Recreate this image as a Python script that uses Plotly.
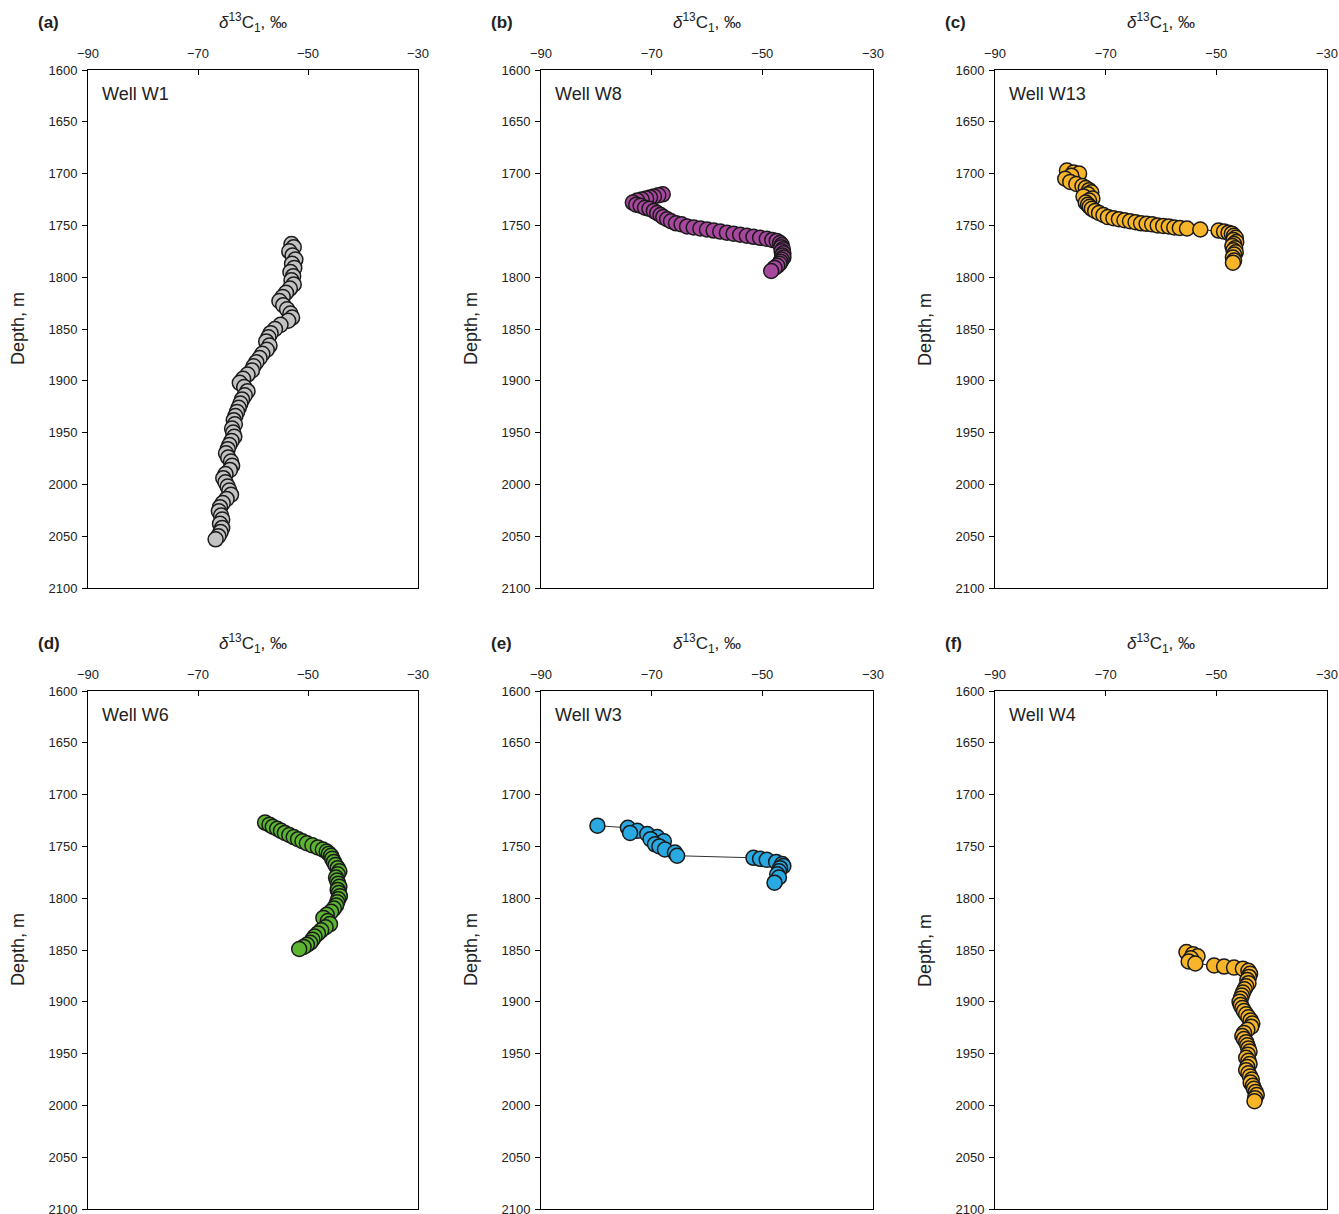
import plotly.graph_objects as go

W = 1339
H = 1214

# ---------------- data ----------------
w1_depth = [1768, 1771, 1775, 1779, 1783, 1787, 1791, 1795, 1799, 1803, 1807, 1811, 1815, 1819, 1823, 1827,
            1831, 1835, 1839, 1842, 1846, 1850, 1854, 1858, 1862, 1866, 1870, 1874, 1878, 1882, 1886, 1890,
            1894, 1898, 1902, 1906, 1910, 1914, 1918, 1922, 1926, 1930, 1934, 1938, 1942, 1946, 1950, 1954,
            1958, 1962, 1966, 1970, 1974, 1978, 1982, 1986, 1990, 1994, 1998, 2002, 2006, 2010, 2014, 2018,
            2022, 2026, 2030, 2034, 2038, 2042, 2046, 2050, 2053]
w1_d13c = [-53.0, -52.6, -53.4, -52.8, -52.3, -52.9, -52.5, -53.2, -52.7, -53.0, -52.6, -53.3, -54.0, -54.6, -55.2, -54.5,
           -53.8, -53.2, -52.9, -53.6, -55.0, -56.0, -56.8, -57.2, -57.6, -57.0, -57.5, -58.3, -58.8, -59.4, -59.9, -60.2,
           -61.0, -61.8, -62.4, -61.6, -61.0, -61.5, -62.0, -62.3, -62.6, -62.9, -63.2, -63.5, -63.3, -63.8, -63.6, -63.4,
           -63.9, -64.3, -64.6, -64.9, -64.5, -64.0, -63.8, -64.2, -65.0, -65.4, -65.0, -64.6, -64.3, -64.0, -64.8, -65.5,
           -66.0, -66.2, -65.8, -65.6, -66.0, -65.6, -65.9, -66.3, -66.8]

w8_depth = [1720, 1721, 1722, 1723, 1724, 1725, 1726, 1728, 1730, 1731, 1733, 1734, 1736, 1738, 1740, 1742,
            1744, 1746, 1748, 1749, 1751, 1752, 1753, 1754, 1755, 1756, 1757, 1758, 1759, 1760, 1761, 1762,
            1763, 1764, 1765, 1767, 1769, 1771, 1773, 1775, 1777, 1779, 1781, 1783, 1785, 1787, 1789, 1791, 1794]
w8_d13c = [-68.0, -68.8, -69.6, -70.3, -71.0, -71.8, -72.6, -73.4, -72.8, -72.0, -71.2, -70.4, -69.6, -69.0, -68.4, -67.9,
           -67.2, -66.5, -65.6, -64.6, -63.6, -62.4, -61.2, -60.0, -58.8, -57.6, -56.4, -55.2, -54.0, -52.8, -51.6, -50.4,
           -49.2, -48.2, -47.4, -46.8, -46.5, -46.6, -46.3, -46.5, -46.2, -46.4, -46.2, -46.5, -46.7, -46.9, -47.3, -47.8, -48.4]

w13_depth = [1697, 1699, 1700, 1702, 1705, 1708, 1710, 1712, 1714, 1716, 1718, 1720, 1722, 1724, 1726, 1728,
             1730, 1732, 1734, 1736, 1738, 1740, 1742, 1743, 1744, 1745, 1746, 1747, 1748, 1748.5, 1749, 1750,
             1750.5, 1751, 1752, 1752.5, 1753, 1754, 1755, 1756, 1757, 1758, 1760, 1762, 1764, 1766, 1768, 1770,
             1772, 1774, 1776, 1778, 1781, 1784, 1786]
w13_d13c = [-77.0, -75.8, -74.8, -76.2, -77.3, -76.4, -75.3, -74.2, -73.6, -73.0, -72.6, -73.2, -74.0, -72.4, -73.0, -73.6,
            -73.2, -72.9, -72.5, -71.9, -71.2, -70.4, -69.6, -68.6, -67.6, -66.6, -65.6, -64.6, -63.6, -62.6, -61.6, -60.6,
            -59.6, -58.6, -57.6, -56.6, -55.3, -52.9, -49.6, -48.6, -47.8, -47.2, -46.8, -46.5, -46.9, -46.4, -46.8, -47.1,
            -46.6, -46.9, -46.5, -46.8, -47.0, -46.8, -47.0]

w6_depth = [1727, 1729, 1731, 1733, 1735, 1737, 1739, 1741, 1743, 1745, 1747, 1749, 1751, 1753, 1755, 1757,
            1759, 1762, 1765, 1768, 1771, 1774, 1777, 1780, 1783, 1786, 1789, 1792, 1795, 1798, 1801, 1804,
            1807, 1810, 1813, 1816, 1819, 1822, 1825, 1828, 1831, 1834, 1837, 1840, 1843, 1845, 1847, 1849]
w6_d13c = [-57.8, -57.0, -56.4, -55.6, -54.9, -54.2, -53.4, -52.6, -51.8, -51.0, -50.2, -49.2, -48.2, -47.3, -46.6, -46.2,
           -45.8, -45.6, -45.3, -45.0, -44.6, -44.3, -44.6, -44.9, -44.7, -44.5, -44.3, -44.6, -44.4, -44.2, -44.5, -44.7,
           -44.9, -45.3, -45.8, -46.6, -47.2, -46.4, -46.0, -46.8, -47.6, -48.2, -48.8, -49.2, -49.6, -50.2, -50.8, -51.6]

w3_depth = [1730, 1732, 1735, 1737, 1738, 1741, 1743, 1745, 1748, 1750, 1753, 1756, 1759,
            1761, 1762, 1763, 1765, 1767, 1769, 1771, 1774, 1777, 1780, 1785]
w3_d13c = [-79.8, -74.3, -72.6, -73.9, -70.8, -69.0, -70.2, -67.8, -69.4, -68.6, -67.6, -65.8, -65.4,
           -51.6, -50.4, -49.2, -47.5, -46.4, -46.2, -46.8, -47.0, -47.3, -47.0, -47.8]

w4_depth = [1852, 1854, 1856, 1858, 1861, 1863, 1865, 1866, 1867, 1868, 1870, 1873, 1876, 1879, 1882, 1885,
            1888, 1891, 1894, 1897, 1900, 1903, 1906, 1909, 1912, 1915, 1918, 1921, 1924, 1927, 1930, 1933,
            1936, 1939, 1942, 1945, 1948, 1951, 1954, 1957, 1960, 1963, 1966, 1969, 1972, 1975, 1978, 1981,
            1984, 1987, 1990, 1993, 1996]
w4_d13c = [-55.4, -54.2, -53.4, -54.6, -55.0, -53.8, -50.4, -48.6, -46.8, -45.2, -44.2, -43.9, -44.1, -44.4, -44.2, -44.6,
           -44.9, -45.2, -45.4, -45.6, -45.8, -45.6, -45.3, -45.0, -44.6, -44.2, -43.8, -43.5, -43.7, -44.4, -45.0, -45.3,
           -45.0, -44.6, -44.4, -44.2, -44.0, -44.3, -44.6, -44.2, -44.0, -44.4, -44.6, -44.2, -43.9, -43.6, -43.8, -43.4,
           -43.2, -42.9, -42.7, -43.0, -43.1]

panel_labels = ["(a)", "(b)", "(c)", "(d)", "(e)", "(f)"]
well_names = ["Well W1", "Well W8", "Well W13", "Well W6", "Well W3", "Well W4"]
colors = ["#c3c3c3", "#a8479e", "#f8b529", "#5cb531", "#29a9e1", "#f8b529"]
x_ticks = [-90, -70, -50, -30]
y_ticks = [1600, 1650, 1700, 1750, 1800, 1850, 1900, 1950, 2000, 2050, 2100]

series = [(w1_d13c, w1_depth), (w8_d13c, w8_depth), (w13_d13c, w13_depth),
          (w6_d13c, w6_depth), (w3_d13c, w3_depth), (w4_d13c, w4_depth)]

# ---------------- layout (pixel boxes) ----------------
col_px = [(88, 418), (541, 873), (995, 1327)]
row_px = [(70, 588), (691, 1209)]

fig = go.Figure()
annotations = []
font_family = "Liberation Sans, Arial, sans-serif"

for i in range(6):
    r, c = divmod(i, 3)
    x0, x1 = col_px[c]
    y0, y1 = row_px[r]
    ax = "" if i == 0 else str(i + 1)
    xs, ys = series[i]
    fig.add_trace(go.Scatter(
        x=xs, y=ys, mode="lines+markers",
        xaxis="x" + ax, yaxis="y" + ax,
        line=dict(color="#333333", width=1),
        marker=dict(size=15, color=colors[i], line=dict(color="#1a1a1a", width=1.5)),
        showlegend=False, hoverinfo="x+y",
    ))
    xdom = [x0 / W, x1 / W]
    ydom = [1 - y1 / H, 1 - y0 / H]
    fig.layout["xaxis" + ax] = dict(
        domain=xdom, anchor="y" + ax, side="top", range=[-90, -30],
        tickvals=x_ticks, ticks="inside", ticklen=5, tickcolor="#000",
        showline=True, linecolor="#000", linewidth=1, mirror=True,
        showgrid=False, zeroline=False, automargin=False,
        ticklabelstandoff=6, ticklabeloverflow="allow",
        tickfont=dict(family=font_family, size=13, color="#222"),
    )
    fig.layout["yaxis" + ax] = dict(
        domain=ydom, anchor="x" + ax, range=[2100, 1600],
        tickvals=y_ticks, ticks="outside", ticklen=5, tickcolor="#000",
        showline=True, linecolor="#000", linewidth=1, mirror=True,
        showgrid=False, zeroline=False, automargin=False,
        ticklabelstandoff=2, ticklabeloverflow="allow",
        tickfont=dict(family=font_family, size=13, color="#222"),
    )
    # axis title (top)
    annotations.append(dict(
        x=(x0 + x1) / 2 / W, y=1 - (y0 - 48) / H, xref="paper", yref="paper",
        text="<i>δ</i><sup>13</sup>C<sub>1</sub>, ‰", showarrow=False,
        font=dict(family=font_family, size=17, color="#222"),
        xanchor="center", yanchor="middle",
    ))
    # panel label
    annotations.append(dict(
        x=(x0 - 52) / W, y=1 - (y0 - 48) / H, xref="paper", yref="paper",
        text="<b>" + panel_labels[i] + "</b>", showarrow=False,
        font=dict(family=font_family, size=17, color="#222"),
        xanchor="left", yanchor="middle",
    ))
    # y title
    annotations.append(dict(
        x=(x0 - 70) / W, y=1 - ((y0 + y1) / 2) / H, xref="paper", yref="paper",
        text="Depth, m", showarrow=False, textangle=-90,
        font=dict(family=font_family, size=18, color="#222"),
        xanchor="center", yanchor="middle",
    ))
    # well name
    annotations.append(dict(
        x=(x0 + 12) / W, y=1 - (y0 + 24) / H, xref="paper", yref="paper",
        text=well_names[i], showarrow=False,
        font=dict(family=font_family, size=18, color="#222"),
        xanchor="left", yanchor="middle",
    ))

fig.update_layout(
    width=W, height=H, margin=dict(l=0, r=0, t=0, b=0),
    paper_bgcolor="white", plot_bgcolor="white",
    annotations=annotations,
)

fig.write_html("out.html")
